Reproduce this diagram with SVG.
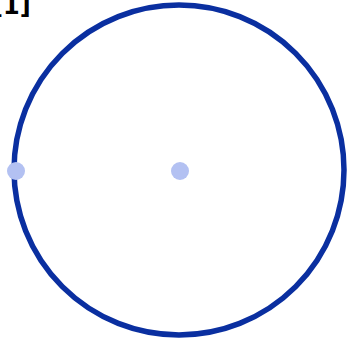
<svg xmlns="http://www.w3.org/2000/svg" width="350" height="345" viewBox="0 0 350 345">
<style>
.pt{fill:#b3c1f2;}
.lbl{font-family:"DejaVu Sans",sans-serif;font-weight:bold;font-size:24px;fill:#000;}
</style>
<rect width="350" height="345" fill="#fff"/>
<g id="circle"><circle cx="179" cy="170" r="165" fill="none" stroke="#0a2fa0" stroke-width="5.5"/></g>
<g id="center"><circle class="pt" cx="180" cy="171" r="9"/></g>
<g id="edge-point"><circle class="pt" cx="16" cy="171" r="9"/></g>
<g id="connectors"></g>
<text class="lbl" x="-8" y="13.5">[1]</text>
</svg>
